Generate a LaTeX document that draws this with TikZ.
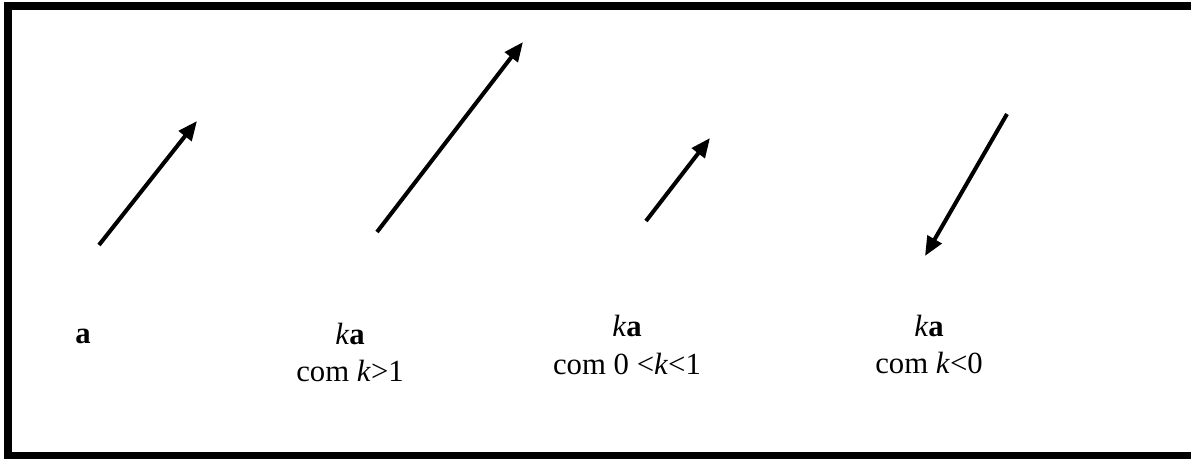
\documentclass[tikz,border=0pt]{standalone}
\usepackage{fontspec}
\setmainfont{Liberation Serif}
\usetikzlibrary{arrows.meta}
\tikzset{
  vec/.style    = {-{Triangle[length=11pt,width=9pt]},line width=2.3pt},
  lbl/.style    = {anchor=base,inner sep=0pt,font=\fontsize{17.5}{21}\selectfont},
  frame/.style  = {line width=4.6pt},
}
\begin{document}
\begin{tikzpicture}[x=0.02cm,y=-0.02cm]
    \useasboundingbox (0,0) rectangle (1191,459);
    \clip (0,0) rectangle (1191,459);
    % outer frame (right side runs off the page)
    \draw[frame] (1210,6) -- (8,6) -- (8,456) -- (1210,456);

    % the four vectors
    \coordinate (a0) at (99,245);   \coordinate (a1) at (197,121);
    \coordinate (b0) at (377,232);  \coordinate (b1) at (523,42);
    \coordinate (c0) at (646,221);  \coordinate (c1) at (710,138);
    \coordinate (d0) at (1007,114); \coordinate (d1) at (925,256);
    \draw[vec] (a0) -- (a1);
    \draw[vec] (b0) -- (b1);
    \draw[vec] (c0) -- (c1);
    \draw[vec] (d0) -- (d1);

    % labels
    \node[lbl] (la)  at (83,344)  {\textbf{a}};
    \node[lbl] (lb)  at (350,345) {\textit{k}\textbf{a}};
    \node[lbl] (lbc) at (350,381) {com \textit{k}>1};
    \node[lbl] (lc)  at (627,337) {\textit{k}\textbf{a}};
    \node[lbl] (lcc) at (627,375) {com 0 <\textit{k}<1};
    \node[lbl] (ld)  at (929,337) {\textit{k}\textbf{a}};
    \node[lbl] (ldc) at (929,374) {com \textit{k}<0};
  \end{tikzpicture}
\end{document}
